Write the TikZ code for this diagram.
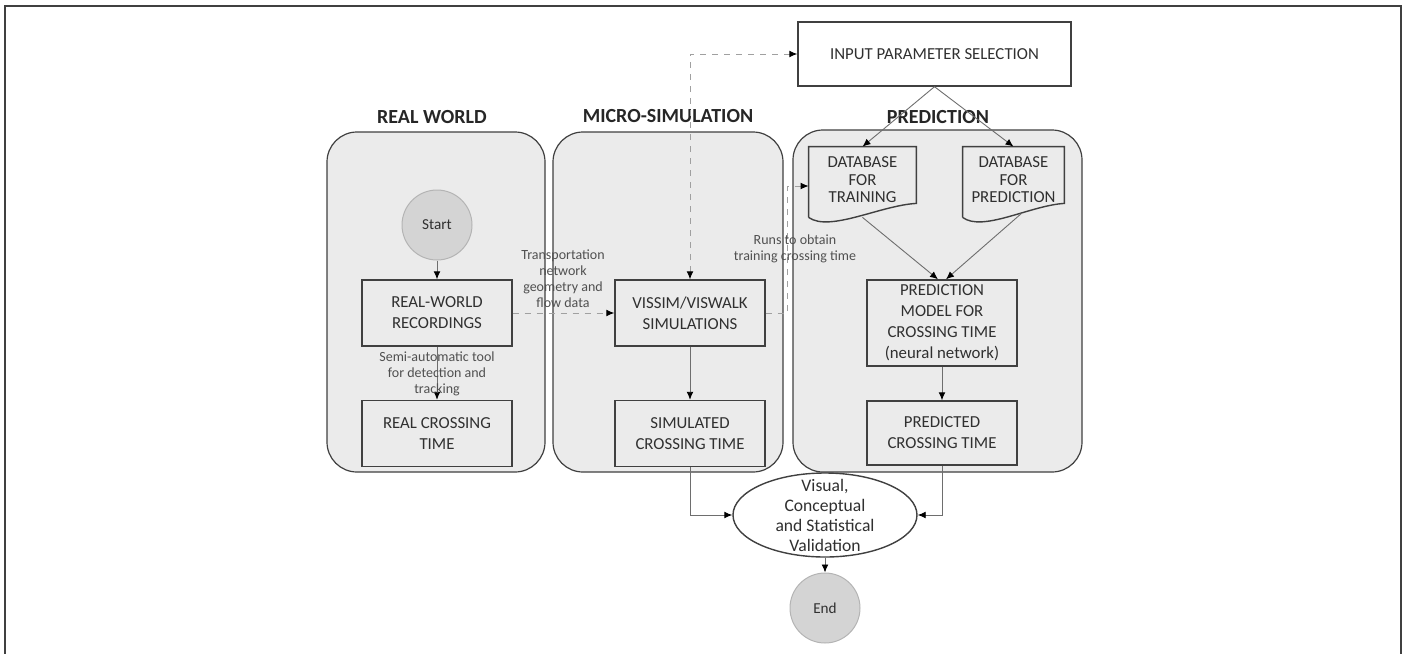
\documentclass[tikz,border=0pt]{standalone}
\usepackage{fontspec}
\setmainfont{Carlito}
\usetikzlibrary{arrows.meta}
\usetikzlibrary{shapes.geometric}

\definecolor{panelgray}{HTML}{EBEBEB}
\definecolor{edgegray}{HTML}{404040}
\definecolor{circgray}{HTML}{D4D4D4}
\definecolor{dashgray}{HTML}{A0A0A0}
\definecolor{linegray}{HTML}{6E6E6E}
\definecolor{notegray}{HTML}{505050}
\definecolor{textgray}{HTML}{303030}

\tikzset{
  panel/.style={draw=edgegray, fill=panelgray, rounded corners=15pt, line width=0.6pt},
  title/.style={text=black!85, font=\bfseries\fontsize{10}{12}\selectfont},
  box/.style={draw=edgegray, text=textgray, line width=0.7pt, align=center, minimum width=75pt,
    minimum height=33pt, inner sep=2pt, font=\fontsize{8.4}{10.5}\selectfont},
  docbox/.style={text=textgray, align=center, inner sep=0pt, minimum height=33pt,
    font=\fontsize{8.4}{8.8}\selectfont},
  terminal/.style={circle, fill=circgray, draw=circgray!85!black, line width=0.5pt, text=textgray,
    minimum size=35pt, inner sep=0pt, font=\fontsize{7.6}{9}\selectfont},
  note/.style={text=notegray, align=center, inner sep=0pt, font=\fontsize{7}{8}\selectfont},
  tip/.tip={Latex[length=4pt,width=3.4pt,color=black]},
  flow/.style={draw=linegray, line width=0.45pt, -tip},
  dataflow/.style={flow, draw=dashgray, dashed}
}

\begin{document}
\begin{tikzpicture}[x=0.5pt, y=-0.5pt]
    \useasboundingbox (0,0) rectangle (1405,654);
    \draw [edgegray, line width=1pt] (5,660) -- (5,6) -- (1401,6) -- (1401,660);

    % panels
    \draw [panel] (327,132) rectangle (545,472);
    \draw [panel] (553,132) rectangle (783,472);
    \draw [panel] (793,130) rectangle (1082,472);

    \node [title] (rwtitle) at (432,117) {REAL WORLD};
    \node [title] (mstitle) at (668,116) {MICRO-SIMULATION};
    \node [title] (prtitle) at (938,117) {PREDICTION};

    % real world
    \node [terminal] (start) at (437,225) {Start};
    \node [box] (rec) at (437,313) {REAL-WORLD\\RECORDINGS};
    \node [box] (realct) at (437,433.5) {REAL CROSSING\\TIME};

    % micro-simulation
    \node [box] (vissim) at (690,313) {VISSIM/VISWALK\\SIMULATIONS};
    \node [box] (simct) at (690,433.5) {SIMULATED\\CROSSING TIME};

    % prediction
    \node [box, minimum width=136.5pt, minimum height=32pt] (input) at (934.5,54) {INPUT PARAMETER SELECTION};
    \node [docbox, minimum width=53.5pt] (dbtrain) at (862.5,180) {DATABASE\\FOR\\TRAINING};
    \node [docbox, minimum width=50.5pt] (dbpred) at (1013.5,180) {DATABASE\\FOR\\PREDICTION};
    \draw [edgegray, line width=0.7pt] ([yshift=-2pt]dbtrain.south west) -- (dbtrain.north west)
      -- (dbtrain.north east) -- ([yshift=5pt]dbtrain.south east)
      .. controls ([xshift=-18pt,yshift=4pt]dbtrain.south east) and ([xshift=10.5pt,yshift=-9.5pt]dbtrain.south west)
      .. ([yshift=-2pt]dbtrain.south west);
    \draw [edgegray, line width=0.7pt] ([yshift=-2pt]dbpred.south west) -- (dbpred.north west)
      -- (dbpred.north east) -- ([yshift=5pt]dbpred.south east)
      .. controls ([xshift=-17pt,yshift=4pt]dbpred.south east) and ([xshift=10pt,yshift=-9.5pt]dbpred.south west)
      .. ([yshift=-2pt]dbpred.south west);
    \node [box, minimum height=43pt] (model) at (942,323) {PREDICTION\\MODEL FOR\\CROSSING TIME\\(neural network)};
    \node [box, minimum height=32pt] (predct) at (942,433) {PREDICTED\\CROSSING TIME};

    % validation
    \node [ellipse, draw=edgegray, fill=white, line width=0.7pt, minimum width=92pt,
      minimum height=42pt, inner sep=0pt] (valid) at (825,515) {};
    \node [align=center, inner sep=0pt, text=textgray, font=\fontsize{8.8}{10}\selectfont] (validtext)
      at (valid.center) {Visual,\\Conceptual\\and Statistical\\Validation};
    \node [terminal] (finish) at (825,608) {End};

    % connectors
    \draw [flow] (start) -- (rec);
    \draw [flow] (rec) -- (realct);
    \node [note] (toolnote) at (437,374) {Semi-automatic tool\\for detection and\\tracking};
    \draw [dataflow] (rec) -- (vissim);
    \node [note] (netnote) at (563,279) {Transportation\\network\\geometry and\\flow data};
    \draw [flow] (vissim) -- (simct);
    \draw [dataflow, tip-tip] (vissim.north) |- (input.west);
    \draw [dataflow] (vissim.east) -- ++(11pt,0) |- ([yshift=-3pt]dbtrain.west);
    \node [note] (runnote) at (795,249) {Runs to obtain\\training crossing time};
    \draw [flow] (input.south) -- (dbtrain.north);
    \draw [flow] (input.south) -- (dbpred.north);
    \draw [flow] ([yshift=-2pt]dbtrain.south) -- ([xshift=-2pt]model.north);
    \draw [flow] ([xshift=4pt]dbpred.south) -- ([xshift=2pt]model.north);
    \draw [flow] (model) -- (predct);
    \draw [flow] (simct.south) |- (valid.west);
    \draw [flow] (predct.south) |- (valid.east);
    \draw [flow] (valid.south) -- (finish.north);
  \end{tikzpicture}
\end{document}
